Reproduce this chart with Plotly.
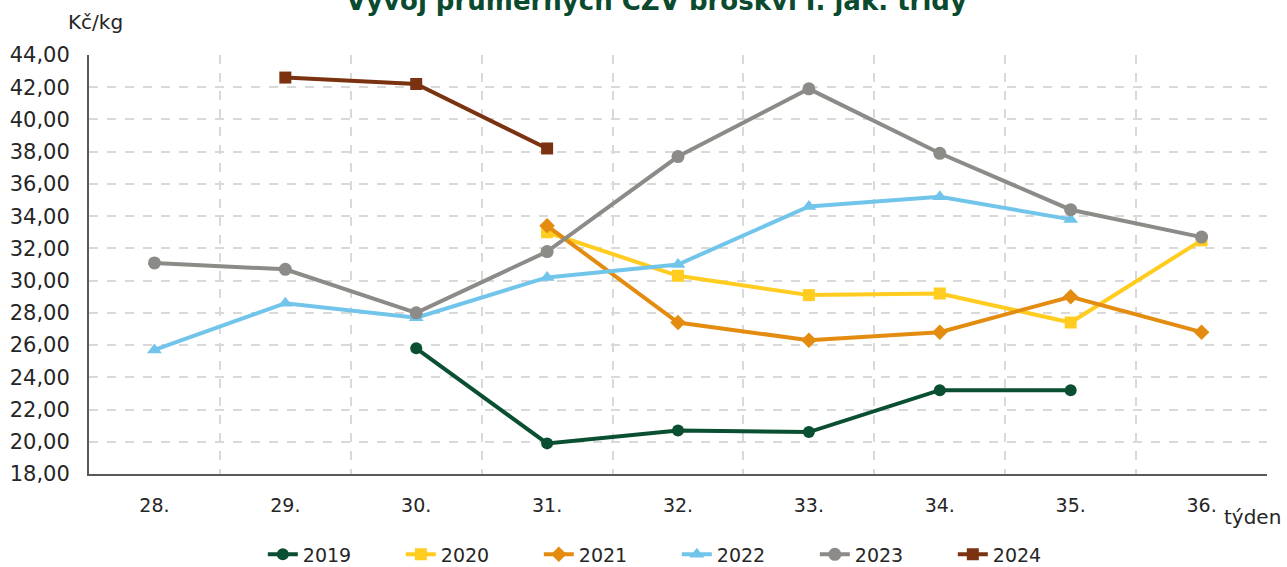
import plotly.graph_objects as go

weeks = [28, 29, 30, 31, 32, 33, 34, 35, 36]
week_labels = ["28.", "29.", "30.", "31.", "32.", "33.", "34.", "35.", "36."]

x_2019 = [30, 31, 32, 33, 34, 35]
y_2019 = [25.8, 19.9, 20.7, 20.6, 23.2, 23.2]
x_2020 = [31, 32, 33, 34, 35, 36]
y_2020 = [33.0, 30.3, 29.1, 29.2, 27.4, 32.5]
x_2021 = [31, 32, 33, 34, 35, 36]
y_2021 = [33.4, 27.4, 26.3, 26.8, 29.0, 26.8]
x_2022 = [28, 29, 30, 31, 32, 33, 34, 35]
y_2022 = [25.7, 28.6, 27.7, 30.2, 31.0, 34.6, 35.2, 33.8]
x_2023 = [28, 29, 30, 31, 32, 33, 34, 35, 36]
y_2023 = [31.1, 30.7, 28.0, 31.8, 37.7, 41.9, 37.9, 34.4, 32.7]
x_2024 = [29, 30, 31]
y_2024 = [42.6, 42.2, 38.2]

series = [
    ("2019", x_2019, y_2019, "#0b4f32", "circle", 12),
    ("2020", x_2020, y_2020, "#ffcc1f", "square", 12),
    ("2021", x_2021, y_2021, "#e38c10", "diamond", 12),
    ("2022", x_2022, y_2022, "#72c5ea", "triangle-up", 13),
    ("2023", x_2023, y_2023, "#8c8b87", "circle", 13),
    ("2024", x_2024, y_2024, "#7b3211", "square", 12),
]

fig = go.Figure()
for name, xs, ys, color, sym, size in series:
    fig.add_trace(go.Scatter(
        x=xs, y=ys, name=name, mode="lines+markers",
        line=dict(color=color, width=4),
        marker=dict(symbol=sym, size=size, color=color),
    ))

font_family = "DejaVu Sans, Verdana, sans-serif"

fig.update_layout(
    width=1287, height=567,
    paper_bgcolor="white", plot_bgcolor="white",
    margin=dict(l=89, r=20, t=55, b=93, autoexpand=False),
    separators=", ",
    font=dict(family=font_family, size=19, color="#262626"),
    showlegend=True,
    legend=dict(orientation="h", x=0.499, xanchor="center", y=-0.192, yanchor="middle",
                font=dict(size=19, color="#262626"), tracegroupgap=0,
                entrywidth=93, entrywidthmode="pixels"),
    xaxis=dict(
        range=[27.5, 36.5], tickmode="array", tickvals=weeks, ticktext=week_labels,
        showgrid=False, showline=True, linecolor="#595959", linewidth=2,
        zeroline=False, ticks="", tickfont=dict(size=19), ticklabelstandoff=13,
        automargin=False,
        minor=dict(tickmode="array", tickvals=[28.5, 29.5, 30.5, 31.5, 32.5, 33.5, 34.5, 35.5],
                   showgrid=True, gridcolor="#d9d9d9", gridwidth=2, griddash="dash", ticks=""),
    ),
    yaxis=dict(
        range=[18, 44], dtick=2, tick0=18, tickformat=".2f",
        showgrid=True, gridcolor="#d9d9d9", gridwidth=2, griddash="dash",
        showline=True, linecolor="#595959", linewidth=2, zeroline=False,
        ticks="", ticklabelstandoff=13, tickfont=dict(size=21), automargin=False,
    ),
    annotations=[
        dict(text="<b>Vývoj průměrných CZV broskví I. jak. třídy</b>", xref="paper", yref="paper",
             x=0.482, y=1.0, yshift=54, xanchor="center", yanchor="middle", showarrow=False,
             font=dict(size=26, color="#0a4a2e")),
        dict(text="Kč/kg", xref="paper", yref="paper", x=0, y=1.0, yshift=33, xshift=-23,
             xanchor="left", yanchor="middle", showarrow=False,
             font=dict(size=20, color="#262626")),
        dict(text="týden", xref="paper", yref="paper", x=1.0, y=0, yshift=-43, xshift=16,
             xanchor="right", yanchor="middle", showarrow=False,
             font=dict(size=20, color="#262626")),
    ],
)

fig.write_html("out.html", config={"displayModeBar": False},
               post_script="document.body.style.margin='0';")
